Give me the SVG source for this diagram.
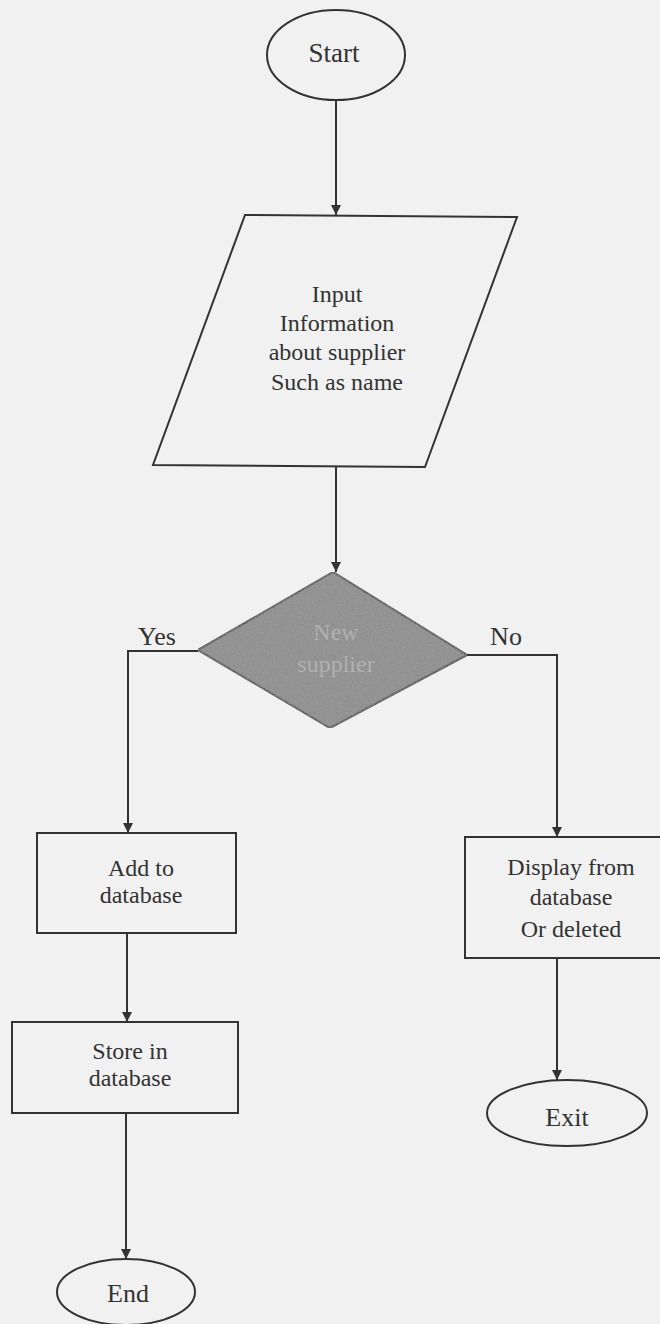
<svg xmlns="http://www.w3.org/2000/svg" width="660" height="1324" viewBox="0 0 660 1324">
  <style>
    .shape { fill: #f1f1f1; stroke: #333333; stroke-width: 2; }
    .txt { font-family: "Liberation Serif", "Times New Roman", serif; fill: #333333; text-anchor: middle; }
    .lbl { font-size: 24px; }
    .body { font-size: 24px; }
    .wire { fill: none; stroke: #333333; stroke-width: 2; }
    .faint { fill: #b0b0b0; }
  </style>
  <defs>
    <marker id="arrow" viewBox="0 0 10 12" refX="10" refY="6" markerWidth="10" markerHeight="12" markerUnits="userSpaceOnUse" orient="auto">
      <path d="M0,1 L10,6 L0,11 Z" fill="#333333"/>
    </marker>
    <filter id="grain" x="0" y="0" width="100%" height="100%">
      <feTurbulence type="fractalNoise" baseFrequency="0.9" numOctaves="2" seed="4" result="n"/>
      <feColorMatrix in="n" type="matrix" values="0 0 0 0 0.4  0 0 0 0 0.4  0 0 0 0 0.4  0 0 0 0.7 0" result="g"/>
      <feComposite in="g" in2="SourceGraphic" operator="in" result="gc"/>
      <feMerge><feMergeNode in="SourceGraphic"/><feMergeNode in="gc"/></feMerge>
    </filter>
  </defs>

  <rect width="660" height="1324" fill="#f1f1f1"/>

  <!-- connectors -->
  <g id="connectors">
    <line class="wire" x1="336" y1="100" x2="336" y2="215" marker-end="url(#arrow)"/>
    <line class="wire" x1="336" y1="466" x2="336" y2="572" marker-end="url(#arrow)"/>
    <polyline class="wire" points="198,651 128,651 128,833" marker-end="url(#arrow)"/>
    <polyline class="wire" points="467,655 557,655 557,837" marker-end="url(#arrow)"/>
    <line class="wire" x1="127" y1="933" x2="127" y2="1022" marker-end="url(#arrow)"/>
    <line class="wire" x1="126" y1="1113" x2="126" y2="1259" marker-end="url(#arrow)"/>
    <line class="wire" x1="557" y1="958" x2="557" y2="1080" marker-end="url(#arrow)"/>
    <text class="txt" x="157" y="645" font-size="26">Yes</text>
    <text class="txt" x="506" y="645" font-size="26">No</text>
  </g>

  <!-- start terminal -->
  <g id="start">
    <ellipse class="shape" cx="336" cy="55" rx="69" ry="45"/>
    <text class="txt" x="334" y="62" font-size="27">Start</text>
  </g>

  <!-- supplier input -->
  <g id="input">
    <polygon class="shape" points="245,215 517,217 425,467 153,465"/>
    <text class="txt body" x="337" y="302">Input</text>
    <text class="txt body" x="337" y="331">Information</text>
    <text class="txt body" x="337" y="360">about supplier</text>
    <text class="txt body" x="337" y="390">Such as name</text>
  </g>

  <!-- decision -->
  <g id="decision">
    <polygon points="333,572 467,655 330,728 198,650" fill="#858585" stroke="#333333" stroke-width="2" filter="url(#grain)"/>
    <text class="txt body faint" x="336" y="640">New</text>
    <text class="txt body faint" x="336" y="672">supplier</text>
  </g>

  <!-- add to database -->
  <g id="add">
    <rect class="shape" x="37" y="833" width="199" height="100"/>
    <text class="txt lbl" x="141" y="876">Add to</text>
    <text class="txt lbl" x="141" y="903">database</text>
  </g>

  <!-- display or delete -->
  <g id="display">
    <rect class="shape" x="465" y="837" width="197" height="121"/>
    <text class="txt lbl" x="571" y="875">Display from</text>
    <text class="txt lbl" x="571" y="905">database</text>
    <text class="txt lbl" x="571" y="937">Or deleted</text>
  </g>

  <!-- store in database -->
  <g id="store">
    <rect class="shape" x="12" y="1022" width="226" height="91"/>
    <text class="txt lbl" x="130" y="1059">Store in</text>
    <text class="txt lbl" x="130" y="1086">database</text>
  </g>

  <!-- exit terminal -->
  <g id="exit">
    <ellipse class="shape" cx="567" cy="1113" rx="80" ry="33"/>
    <text class="txt" x="567" y="1126" font-size="26">Exit</text>
  </g>

  <!-- end terminal -->
  <g id="end">
    <ellipse class="shape" cx="126" cy="1292" rx="69" ry="33"/>
    <text class="txt" x="128" y="1302" font-size="26">End</text>
  </g>
</svg>
